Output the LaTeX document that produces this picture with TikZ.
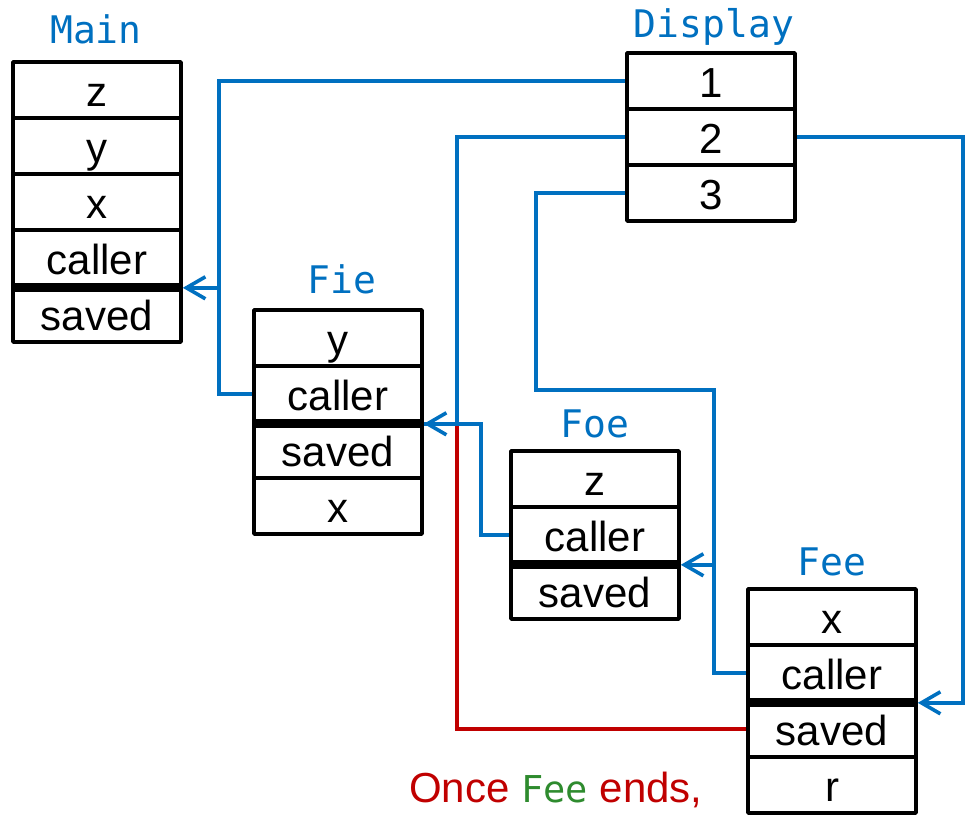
\documentclass[tikz,border=0pt]{standalone}
\usepackage{fontspec}
\setmainfont{Liberation Sans}
\newfontfamily\monofont{DejaVu Sans Mono}
\usetikzlibrary{arrows.meta,calc}
\definecolor{dblue}{HTML}{0070C0}
\definecolor{dred}{HTML}{C00000}
\definecolor{dgreen}{HTML}{2E8B2E}
\begin{document}
\begin{tikzpicture}[x=1pt,y=-1pt,
 cell/.style={draw, line width=3.6pt, line join=round, minimum width=168pt, minimum height=56pt, inner sep=0pt, text height=32pt, text depth=0pt, font=\fontsize{42}{48}\selectfont, anchor=center},
 frame/.style={text=dblue, font=\monofont\fontsize{38}{44}\selectfont, anchor=base, inner sep=0pt},
 link/.style={draw=dblue, line width=3.6pt, line join=miter},
 redlink/.style={draw=dred, line width=3.6pt, line join=miter},
 tip/.style={-{Straight Barb[length=19pt,width=22pt]}},
 divider/.style={line width=9pt}]
\useasboundingbox (0,0) rectangle (965,815);

% Main
\node[cell] (m1) at (97,90) {z};
\node[cell] (m2) at (97,146) {y};
\node[cell] (m3) at (97,202) {x};
\node[cell] (m4) at (97,258) {caller};
\node[cell] (m5) at (97,314) {saved};
\draw[divider] (m4.south west) -- (m4.south east);
\node[frame] (mainlbl) at (96,43) {Main};

% Display
\node[cell] (d1) at (711,81) {1};
\node[cell] (d2) at (711,137) {2};
\node[cell] (d3) at (711,193) {3};
\node[frame] (displbl) at (714,37) {Display};

% Fie
\node[cell] (f1) at (338,338) {y};
\node[cell] (f2) at (338,394) {caller};
\node[cell] (f3) at (338,450) {saved};
\node[cell] (f4) at (338,506) {x};
\draw[divider] (f2.south west) -- (f2.south east);
\node[frame] (fielbl) at (342,293) {Fie};

% Foe
\node[cell] (o1) at (595,479) {z};
\node[cell] (o2) at (595,535) {caller};
\node[cell] (o3) at (595,591) {saved};
\draw[divider] (o2.south west) -- (o2.south east);
\node[frame] (foelbl) at (595,437) {Foe};

% Fee
\node[cell] (e1) at (832,617) {x};
\node[cell] (e2) at (832,673) {caller};
\node[cell] (e3) at (832,729) {saved};
\node[cell] (e4) at (832,785) {r};
\draw[divider] (e2.south west) -- (e2.south east);
\node[frame] (feelbl) at (832,575) {Fee};

% junction coordinates
\coordinate (c1) at (219,0);
\coordinate (c2) at (457,0);
\coordinate (c3) at (536,390);
\coordinate (c4) at (714,0);
\coordinate (c5) at (481,0);
\coordinate (c6) at (963,0);

% red connector
\draw[redlink] (e3.west) -| (c2 |- f2.south east);

% blue connectors
\draw[link,tip] (d1.west) -| (c1 |- m4.south east) -- (m4.south east);
\draw[link] (f2.west) -| (c1 |- m4.south east);
\draw[link,tip] (d2.west) -| (c2 |- f2.south east) -- (f2.south east);
\draw[link] (o2.west) -| (c5 |- f2.south east) -- (f2.south east);
\draw[link,tip] (d3.west) -| (c3) -| (c4 |- o2.south east) -- (o2.south east);
\draw[link] (e2.west) -| (c4 |- o2.south east);
\draw[link,tip] (d2.east) -| (c6 |- e2.south east) -- (e2.south east);

% note
\node[anchor=base west, text=dred, font=\fontsize{42}{48}\selectfont, inner sep=0pt] (note) at (409,802) {Once {\color{dgreen}\monofont\fontsize{37}{44}\selectfont Fee} ends,};
\end{tikzpicture}
\end{document}
